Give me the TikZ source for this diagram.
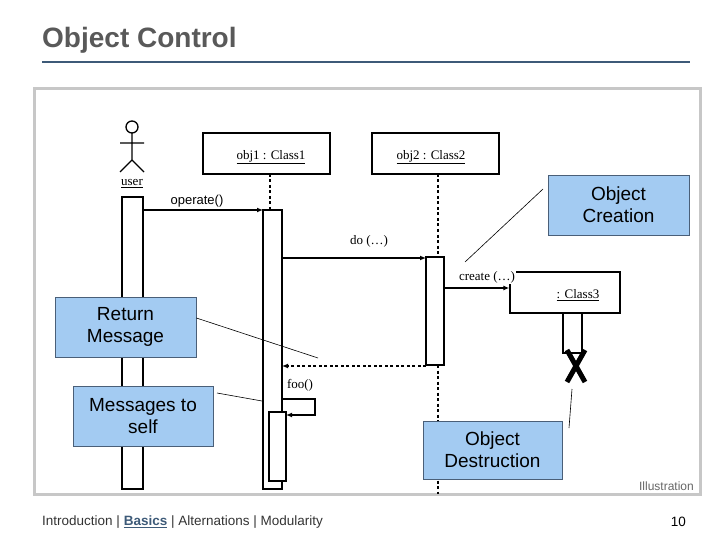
\documentclass[tikz,border=0pt]{standalone}
\usepackage{fontspec}
\setmainfont{Liberation Serif}
\newfontfamily\sans{Liberation Sans}
\usetikzlibrary{arrows.meta}
\definecolor{callfill}{HTML}{A3CBF2}
\definecolor{callline}{HTML}{4A5F78}
\definecolor{rule}{HTML}{3D5A78}
\begin{document}
\begin{tikzpicture}[x=1pt,y=-1pt,
  box/.style={draw,line width=1.4pt},
  act/.style={draw,fill=white,line width=1.3pt},
  life/.style={line width=1.3pt,dash pattern=on 3pt off 2.5pt},
  msg/.style={line width=1.3pt,-{Latex[length=6pt,width=5pt]}},
  lab/.style={font=\fontsize{13}{13}\selectfont,inner sep=0pt},
  slab/.style={font=\sans\fontsize{13}{13}\selectfont,inner sep=0pt},
  call/.style={draw=callline,fill=callfill,line width=0.8pt,font=\sans\fontsize{19}{22}\selectfont,align=center,inner sep=0pt},
  ptr/.style={line width=0.6pt}]
\useasboundingbox (0,0) rectangle (720,540);
\node[anchor=west,font=\sans\bfseries\fontsize{28}{28}\selectfont,text=black!65,inner sep=0pt] (title) at (42,40) {Object Control};
\draw[rule,line width=1.5pt] (42,62) -- (690,62);
\draw[black!22,line width=3pt] (34,89) rectangle (700,494);
% actor
\draw[line width=1.3pt] (132,127) circle (6);
\draw[line width=1.3pt] (132,133) -- (132,160) (120,143) -- (144,143) (120,172) -- (132,160) -- (144,172);
\node[lab] (user) at (132,184) {\underline{user}};
% objects
\node[box,minimum width=127,minimum height=41] (o1) at (266.5,153.5) {};
\node[lab] at (271,157) {\underline{obj1 : Class1}};
\node[box,minimum width=127,minimum height=41] (o2) at (435.5,153.5) {};
\node[lab] at (431,157) {\underline{obj2 : Class2}};
\draw[life] (270,174) -- (270,210);
\draw[life] (438,174) -- (438,257);
\draw[life] (438,365) -- (438,494);
% activations
\draw[act] (122,197) rectangle (143,489);
\draw[act] (263,210) rectangle (282,489);
\draw[act] (269,412) rectangle (286,481);
\draw[act] (426,257) rectangle (444,365);
\node[box,minimum width=110,minimum height=41] (o3) at (565,292.5) {};
\draw[line width=1.4pt] (o3.north west) rectangle (o3.south east);
\node[lab] at (578,295) {\underline{: Class3}};
\draw[act] (563,313) rectangle (582,353);
\draw[line width=5pt] (567,350) -- (585,382) (585,350) -- (567,382);
% messages
\coordinate (a1) at (143,210); \coordinate (b1) at (263,210);
\draw[msg] (a1) -- (b1);
\node[slab] at (197,201) {operate()};
\coordinate (a2) at (282,258); \coordinate (b2) at (426,258);
\draw[msg] (a2) -- (b2);
\node[lab] at (369,241) {do (\dots)};
\coordinate (a3) at (444,288); \coordinate (b3) at (o3.west|-0,288);
\draw[msg] (a3) -- (b3);
\node[lab,fill=white,inner sep=1pt] at (487,277) {create (\dots)};
\coordinate (a4) at (426,366); \coordinate (b4) at (282,366);
\draw[msg,dash pattern=on 3pt off 2.5pt] (a4) -- (b4);
\coordinate (a5) at (282,399); \coordinate (b5) at (286,415);
\draw[msg] (a5) -- (315,399) -- (315,415) -- (b5);
\node[lab] at (300,385) {foo()};
% callouts
\node[call,minimum width=141,minimum height=60] (c1) at (618.5,205) {Object\\ Creation};
\draw[ptr] (543,189) -- (465,262);
\node[call,minimum width=141,minimum height=60] (c2) at (125.5,327) {Return\\ Message};
\draw[ptr] (c2.east|-0,318) -- (318,358);
\node[call,minimum width=140,minimum height=60] (c3) at (143,416) {Messages to\\ self};
\draw[ptr] (217,393) -- (262,401);
\node[call,minimum width=139,minimum height=58] (c4) at (492.5,450) {Object\\ Destruction};
\draw[ptr] (572,389) -- (569,428);
\node[anchor=east,font=\sans\fontsize{12}{12}\selectfont,text=black!60,inner sep=0pt] at (694,486) {Illustration};
\node[anchor=west,font=\sans\fontsize{13.5}{14}\selectfont,inner sep=0pt,text=black!80] (foot) at (42,522) {Introduction | \textcolor{rule}{\textbf{\underline{Basics}}} | Alternations | Modularity};
\node[anchor=east,font=\sans\fontsize{13.5}{14}\selectfont,inner sep=0pt] (pg) at (686,522) {10};
\end{tikzpicture}
\end{document}
